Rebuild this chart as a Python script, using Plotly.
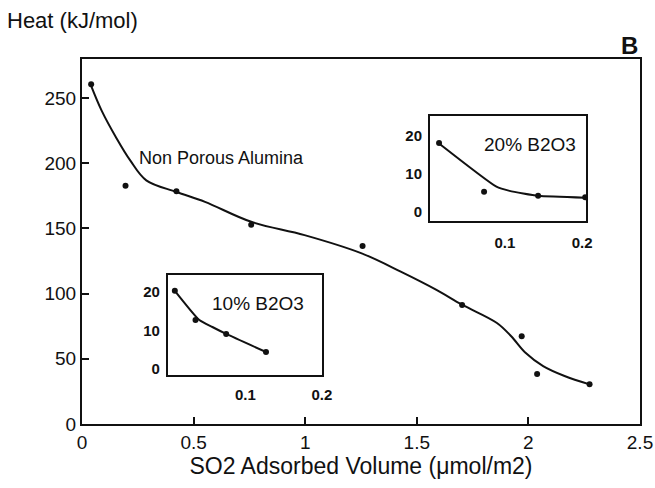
import plotly.graph_objects as go

# Main series: Non Porous Alumina
main_x = [0.041, 0.195, 0.423, 0.758, 1.257, 1.703, 1.970, 2.039, 2.274]
main_y = [260.7, 182.8, 178.5, 152.8, 136.5, 91.3, 67.3, 38.3, 30.4]
# fitted curve
curve_x = [0.041, 0.088, 0.152, 0.216, 0.288, 0.423, 0.551, 0.758, 0.997, 1.253,
           1.428, 1.588, 1.703, 1.859, 1.923, 1.987, 2.066, 2.162, 2.274]
curve_y = [259.4, 240.4, 220.0, 202.2, 186.9, 178.0, 170.4, 155.1, 144.9, 130.9,
           116.9, 102.9, 91.5, 77.5, 67.3, 54.6, 44.4, 36.8, 30.4]

# Inset: 20% B2O3
b20_x = [0.0147, 0.073, 0.143, 0.204]
b20_y = [18.0, 5.3, 4.2, 3.8]
b20_line_x = [0.0147, 0.089, 0.106, 0.143, 0.204]
b20_line_y = [17.9, 6.6, 5.5, 4.2, 3.7]

# Inset: 10% B2O3
b10_x = [0.008, 0.035, 0.075, 0.127]
b10_y = [20.3, 12.7, 9.1, 4.4]
b10_line_x = [0.008, 0.040, 0.057, 0.075, 0.127]
b10_line_y = [20.3, 12.7, 10.9, 9.1, 4.4]

main_xticks = [0, 0.5, 1, 1.5, 2, 2.5]
main_xtext = ["0", "0.5", "1", "1.5", "2", "2.5"]
main_yticks = [0, 50, 100, 150, 200, 250]
inset_xticks = [0.1, 0.2]
inset_yticks = [0, 10, 20]

FONT = "Liberation Sans, Arial, sans-serif"
BLACK = "#111111"

fig = go.Figure()

fig.add_trace(go.Scatter(x=curve_x, y=curve_y, mode="lines", line=dict(color=BLACK, width=2, shape="spline", smoothing=1.0),
                         xaxis="x", yaxis="y", showlegend=False, hoverinfo="skip"))
fig.add_trace(go.Scatter(x=main_x, y=main_y, mode="markers", marker=dict(color=BLACK, size=6),
                         xaxis="x", yaxis="y", showlegend=False))

fig.add_trace(go.Scatter(x=b20_line_x, y=b20_line_y, mode="lines", line=dict(color=BLACK, width=2, shape="spline", smoothing=0.5),
                         xaxis="x2", yaxis="y2", showlegend=False, hoverinfo="skip"))
fig.add_trace(go.Scatter(x=b20_x, y=b20_y, mode="markers", marker=dict(color=BLACK, size=6),
                         xaxis="x2", yaxis="y2", showlegend=False))

fig.add_trace(go.Scatter(x=b10_line_x, y=b10_line_y, mode="lines", line=dict(color=BLACK, width=2, shape="spline", smoothing=0.5),
                         xaxis="x3", yaxis="y3", showlegend=False, hoverinfo="skip"))
fig.add_trace(go.Scatter(x=b10_x, y=b10_y, mode="markers", marker=dict(color=BLACK, size=6),
                         xaxis="x3", yaxis="y3", showlegend=False))

inset_common = dict(showline=True, linecolor=BLACK, linewidth=2, mirror=True, showgrid=False, zeroline=False,
                    automargin=False, ticks="outside", tickcolor="rgba(0,0,0,0)",
                    tickfont=dict(size=15, color=BLACK, family=FONT, weight="bold"))

fig.update_layout(
    width=655, height=488,
    margin=dict(l=82, r=15, t=59, b=64, autoexpand=False),
    paper_bgcolor="white", plot_bgcolor="white",
    font=dict(family=FONT, color=BLACK),
    xaxis=dict(domain=[0, 1], range=[0, 2.5], tickvals=main_xticks, ticktext=main_xtext, automargin=False,
               showline=True, linecolor=BLACK, linewidth=2, mirror=True, showgrid=False, zeroline=False,
               ticks="inside", ticklen=7, tickwidth=2, tickcolor=BLACK, tickfont=dict(size=19),
               title=dict(text="SO2 Adsorbed Volume (μmol/m2)", font=dict(size=23), standoff=2)),
    yaxis=dict(domain=[0, 1], range=[0, 280], tickvals=main_yticks, automargin=False,
               showline=True, linecolor=BLACK, linewidth=2, mirror=True, showgrid=False, zeroline=False,
               ticks="inside", ticklen=7, tickwidth=2, tickcolor=BLACK, tickfont=dict(size=19)),
    xaxis2=dict(domain=[0.6237, 0.9032], range=[0.003, 0.205], tickvals=inset_xticks, ticklen=7,
                anchor="y2", **inset_common),
    yaxis2=dict(domain=[0.556, 0.844], range=[-2.4, 25.1], tickvals=inset_yticks, ticklen=3,
                anchor="x2", **inset_common),
    xaxis3=dict(domain=[0.154, 0.430], range=[-0.001, 0.2], tickvals=inset_xticks, ticklen=5,
                anchor="y3", **inset_common),
    yaxis3=dict(domain=[0.134, 0.408], range=[-1.6, 24.4], tickvals=inset_yticks, ticklen=3,
                anchor="x3", **inset_common),
    annotations=[
        dict(text="Heat (kJ/mol)", x=-0.138, y=1.105, xref="paper", yref="paper", showarrow=False,
             font=dict(size=22), xanchor="left", yanchor="middle"),
        dict(text="<b>B</b>", x=1, y=1, xref="paper", yref="paper", showarrow=False,
             font=dict(size=24), xanchor="right", yanchor="bottom", yshift=-2),
        dict(text="Non Porous Alumina", x=0.246, y=204, xref="x", yref="y", showarrow=False,
             font=dict(size=18), xanchor="left", yanchor="middle"),
        dict(text="20% B2O3", x=0.1325, y=17.5, xref="x2", yref="y2", showarrow=False,
             font=dict(size=19), xanchor="center", yanchor="middle"),
        dict(text="10% B2O3", x=0.1165, y=17.1, xref="x3", yref="y3", showarrow=False,
             font=dict(size=19), xanchor="center", yanchor="middle"),
    ],
)

fig.write_html("out.html")
